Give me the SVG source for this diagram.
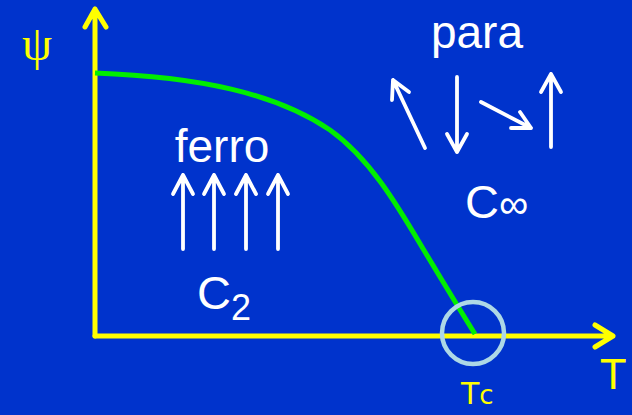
<svg xmlns="http://www.w3.org/2000/svg" width="632" height="415" viewBox="0 0 632 415">
<style>
.ax{stroke:#FFFF00;stroke-width:5;fill:none;stroke-linecap:round;stroke-linejoin:round}
.sp{stroke:#FFFFFF;stroke-width:3.8;fill:none;stroke-linecap:round;stroke-linejoin:round}
.w{fill:#FFFFFF;font-family:"Liberation Sans",Arial,sans-serif}
.y{fill:#FFFF00}
</style>
<rect width="632" height="415" fill="#0033CC"/>
<g id="axes">
<path class="ax" d="M95,336 V9 M85,27 L95,9 L106,27"/>
<path class="ax" d="M95,336 H613 M595,325 L613,336 L595,347"/>
</g>
<g id="connectors">
<path d="M95,73 C200,77 275,93 330,130 C372,160 400,210 425,252 C445,285 460,310 475,334" stroke="#00EE00" stroke-width="5" fill="none"/>
<circle cx="473" cy="333" r="31" fill="none" stroke="#ADD8E6" stroke-width="4.5"/>
</g>
<g id="labels">
<text x="37" y="60" class="y" font-family="Liberation Serif,serif" font-size="48" text-anchor="middle">ψ</text>
<text x="601" y="389" class="y" font-family="DejaVu Sans,sans-serif" font-size="40">T</text>
<text x="461" y="404" class="y" font-family="DejaVu Sans,sans-serif" font-size="30">T<tspan font-size="26">c</tspan></text>
</g>
<g id="ferro">
<text x="222" y="162" class="w" font-size="46" text-anchor="middle">ferro</text>
<path class="sp" d="M183,249 V175 M173,194 L183,175 L193,194"/>
<path class="sp" d="M214,249 V175 M204,194 L214,175 L224,194"/>
<path class="sp" d="M246,249 V175 M236,194 L246,175 L256,194"/>
<path class="sp" d="M278,249 V175 M268,194 L278,175 L288,194"/>
<text x="197" y="309" class="w" font-size="47">C<tspan font-size="36" dy="11">2</tspan></text>
</g>
<g id="para">
<text x="477" y="48" class="w" font-size="46" text-anchor="middle">para</text>
<path class="sp" d="M425,148 L393,80 M392,100 L393,80 L409,92"/>
<path class="sp" d="M457,77 V152 M447,134 L457,152 L467,134"/>
<path class="sp" d="M481,102 L531,128 M511,128 L531,128 L520,112"/>
<path class="sp" d="M551,147 V74 M541,92 L551,74 L561,92"/>
<text x="465" y="218" class="w" font-size="47">C<tspan font-size="41">∞</tspan></text>
</g>
</svg>
